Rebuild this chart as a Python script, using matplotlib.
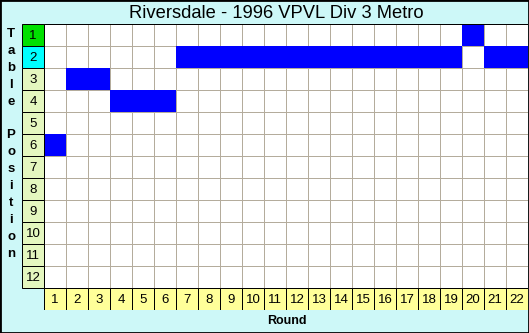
import matplotlib.pyplot as plt
import numpy as np
from matplotlib.patches import Rectangle

plt.rcParams['font.family'] = ['Liberation Sans', 'DejaVu Sans']

# --- data ---
title = "Riversdale - 1996 VPVL Div 3 Metro"
rounds = list(range(1, 23))
positions = [6, 3, 3, 4, 4, 4,
             2, 2, 2, 2, 2, 2, 2, 2, 2, 2, 2, 2, 2,
             1, 2, 2]
table_positions = list(range(1, 13))
ylabel_letters = ["T", "a", "b", "l", "e", "", "P", "o", "s", "i", "t", "i", "o", "n"]

# colours
bg = '#cdf8f8'
pos_colors = {1: '#00e000', 2: '#00ffff'}
pos_default = '#e4f7bf'
round_color = '#ffff99'
grid_color = '#b4ac9c'
cell_color = '#0000ff'

W, H = 529, 333
fig = plt.figure(figsize=(W / 100, H / 100), dpi=100, facecolor=bg)

# axes covers label column + 22 rounds, 12 positions + label row
ax = fig.add_axes([22 / W, (H - 310) / H, 506 / W, 286 / H])
ax.set_xlim(-0.5, len(rounds) + 0.5)
ax.set_ylim(len(table_positions) + 1.5, 0.5)
ax.axis('off')

nr, npos = len(rounds), len(table_positions)
px = 0.72  # one pixel in points

ax.add_patch(Rectangle((0.5, 0.5), nr, npos, fc='white', ec='none', zorder=0))
ax.vlines(np.arange(1.5, nr + 0.5), 0.5, npos + 0.5, color=grid_color, lw=px, zorder=1)
ax.hlines(np.arange(1.5, npos + 0.5), 0.5, nr + 0.5, color=grid_color, lw=px, zorder=1)

# position held in each round
ax.bar(rounds, 1, bottom=np.array(positions) - 0.5, width=1, color=cell_color,
       zorder=2, linewidth=0)

ax.add_patch(Rectangle((0.5, 0.5), nr, npos, fill=False, ec='black', lw=px, zorder=3))

# row labels
for p in table_positions:
    ax.add_patch(Rectangle((-0.5, p - 0.5), 1, 1, fc=pos_colors.get(p, pos_default),
                           ec='black', lw=px, zorder=3))
    ax.text(0, p + 0.03, str(p), ha='center', va='center', fontsize=9.5, zorder=4)

# round labels
for r in rounds:
    ax.add_patch(Rectangle((r - 0.5, npos + 0.5), 1, 1, fc=round_color,
                           ec='black', lw=px, zorder=3))
    ax.text(r, npos + 1.03, str(r), ha='center', va='center', fontsize=9.5, zorder=4)

fig.text(276 / W, 1 - 13 / H, title, ha='center', va='center', fontsize=13.2)
fig.text(287 / W, 1 - 321 / H, "Round", ha='center', va='center',
         fontsize=9, fontweight='bold')

for i, ch in enumerate(ylabel_letters):
    if ch:
        fig.text(11 / W, 1 - (34 + i * 16.9) / H, ch, ha='center', va='center',
                 fontsize=9.5, fontweight='bold')

fig.add_artist(Rectangle((0, 0), 1, 1, transform=fig.transFigure, fill=False,
                         ec='black', lw=2))

fig.savefig('out.png', dpi=100, facecolor=bg)
